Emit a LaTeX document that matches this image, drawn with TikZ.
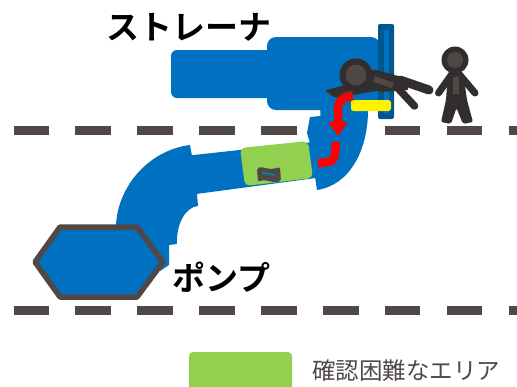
\documentclass[tikz,border=0pt]{standalone}
\usepackage{fontspec}
\setmainfont{Noto Sans CJK JP}
\newfontfamily\jpbold{Noto Sans CJK JP Bold}
\usetikzlibrary{arrows.meta}
\definecolor{pipeblue}{HTML}{0070C0}
\definecolor{flangeblue}{HTML}{00568F}
\definecolor{roadgrey}{HTML}{504846}
\definecolor{figdark}{HTML}{332E2E}
\definecolor{figlight}{HTML}{4F4846}
\definecolor{areagreen}{HTML}{92D050}
\definecolor{tealmark}{HTML}{0F7F8F}
\tikzset{
  road/.style={draw=roadgrey,line width=8.5pt,dash pattern=on 35.5pt off 26.4pt},
  pipe/.style={fill=pipeblue,draw=none},
  limb/.style={draw=figdark,line cap=round,line join=round},
  redline/.style={draw=red,line width=8.5pt,line join=round},
  heavy/.style={font=\jpbold\fontsize{33}{33}\selectfont,inner sep=0pt,text=black},
}
\begin{document}
\begin{tikzpicture}[x=1pt,y=-1pt]
\useasboundingbox (0,0) rectangle (517,386);
% roads
\draw[road] (13.5,130.5) -- (517,130.5);
\draw[road] (13.5,310.5) -- (517,310.5);
% strainer
\fill[pipe,rounded corners=6pt] (171,50) rectangle (290,98);
\fill[pipe,rounded corners=9pt] (267,37) rectangle (380,110);
% right elbow
\fill[pipe] (320,105) -- (368,105) -- (368,110) .. controls (368,150) and (350,185) .. (317,190)
  -- (310,143) -- (307,133) -- (310,117) -- (320.5,116) -- cycle;
% straight pipe
\fill[pipe] (180,156.5) -- (322,141) -- (327,176.5) -- (185,195.5) -- cycle;
% lower elbow
\fill[pipe] (190,145) -- (192,156) -- (197,194) -- (198,206)
  .. controls (185,207) and (176,225) .. (177,244) -- (169,245) -- (169,265)
  -- (160,271) -- (116,240) -- (116,225) .. controls (118,185) and (150,150) .. (190,145) -- cycle;
% green area on the pipe
\fill[areagreen,rounded corners=5pt] (240,148) -- (308,141) -- (313,178) -- (245,186) -- cycle;
% small mark
\fill[figlight,rounded corners=2pt] (257,168) .. controls (263,166) and (268,171) .. (280,167)
  -- (281,181) .. controls (272,184) and (265,178) .. (258,182) -- cycle;
\draw[tealmark,line width=2pt] (262,172.5) -- (275,175);
% hexagon pump
\draw[fill=pipeblue,draw=roadgrey,line width=5.5pt,line join=round]
  (35,262) -- (60,227) -- (137,227) -- (163,262) -- (137,297) -- (60,297) -- cycle;
% flange
\fill[flangeblue,rounded corners=2pt] (378,24) rectangle (394,119);
\fill[pipeblue] (383.5,30) rectangle (389,113);
% yellow mark
\fill[yellow,rounded corners=2.5pt] (351,100) rectangle (391,111);
% lying person
\fill[figdark,rounded corners=2pt] (325,90.5) -- (375,77) -- (382,90) -- (335,98) -- cycle;
\draw[figlight,line width=.8pt] (340,93.5) -- (366,88);
\fill[figdark,rounded corners=2pt] (372,69) -- (402,77) -- (409,90) -- (380,92) -- (365,85) -- cycle;
\draw[limb,line width=9pt] (400,80) -- (429,90);
\draw[limb,line width=7.5pt] (394,84) -- (414.5,106);
\fill[figlight] (375,76) -- (394,83) -- (392,88) -- (373,82) -- cycle;
\fill[figdark] (356,75) circle (16.5);
\fill[figlight] (356,75) circle (10.5);
% red arrow
\draw[redline,-{Triangle[width=19pt,length=14pt]}] (353,96)
  .. controls (342,97) and (337,102) .. (338,112) -- (338,136);
\draw[redline] (336,142) -- (335,154) .. controls (334,160) and (331,162) .. (327,162) -- (318,163.5);
% standing person
\draw[limb,line width=7pt] (452,74) -- (438.5,93);
\draw[limb,line width=7pt] (459,74) -- (475,93);
\fill[figdark,rounded corners=2pt] (448,72) -- (463,72) -- (467,100) -- (473,122) -- (463,124)
  -- (456.5,108) -- (451,124) -- (441,122) -- (446,100) -- cycle;
\fill[figlight] (453,78) -- (456,76) -- (459,78) -- (459,94) -- (453,94) -- cycle;
\fill[figdark] (455,60) circle (13.5);
\fill[figlight] (455,60) circle (8);
% labels
\node[heavy,anchor=west] (strainer) at (106,27) {ストレーナ};
\node[heavy,anchor=west] (pump) at (172,277) {ポンプ};
\fill[areagreen,rounded corners=4pt] (189,352) rectangle (292,392);
\node[anchor=west,inner sep=0pt,font=\fontsize{23.5}{23.5}\selectfont,text=figlight] (legend) at (312,371) {確認困難なエリア};
\end{tikzpicture}
\end{document}
